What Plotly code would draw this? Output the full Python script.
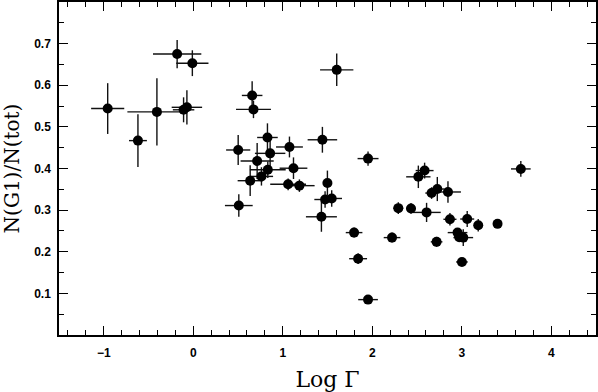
import plotly.graph_objects as go

# values
log_gamma = [-0.956, -0.618, -0.406, -0.18, -0.01, -0.108, -0.071,
             0.658, 0.673, 0.502, 0.829, 0.859, 1.075, 0.714, 0.833, 1.12,
             0.636, 0.762, 1.06, 1.186, 0.509, 1.603, 1.443, 1.953, 1.499,
             1.473, 1.547, 1.432, 1.797, 1.842, 1.953, 2.221, 2.291, 2.433,
             2.515, 2.585, 2.663, 2.727, 2.846, 2.607, 2.868, 3.061, 3.184,
             3.4, 2.953, 2.972, 3.017, 2.719, 3.002, 3.66]
log_gamma_err = [0.185, 0.1, 0.33, 0.27, 0.18, 0.12, 0.17,
                 0.115, 0.195, 0.135, 0.115, 0.17, 0.15, 0.185, 0.2, 0.155,
                 0.14, 0.13, 0.2, 0.17, 0.155, 0.186, 0.165, 0.117, 0.05,
                 0.12, 0.115, 0.173, 0.093, 0.1, 0.11, 0.093, 0.056, 0.055,
                 0.136, 0.1, 0.07, 0.08, 0.145, 0.158, 0.073, 0.078, 0.03,
                 0.0, 0.11, 0.05, 0.11, 0.065, 0.065, 0.11]
frac_g1 = [0.544, 0.467, 0.536, 0.675, 0.653, 0.541, 0.547,
           0.5755, 0.542, 0.4445, 0.4745, 0.4364, 0.4517, 0.418, 0.397, 0.4007,
           0.3707, 0.381, 0.362, 0.3588, 0.311, 0.637, 0.469, 0.4238, 0.365,
           0.3255, 0.328, 0.284, 0.246, 0.1833, 0.085, 0.234, 0.3048, 0.304,
           0.380, 0.395, 0.341, 0.3507, 0.3436, 0.2945, 0.278, 0.2786, 0.2635,
           0.267, 0.246, 0.235, 0.234, 0.2238, 0.1755, 0.399]
frac_g1_err = [0.061, 0.0635, 0.081, 0.034, 0.031, 0.03, 0.041,
               0.034, 0.021, 0.036, 0.034, 0.034, 0.025, 0.043, 0.02, 0.026,
               0.037, 0.022, 0.014, 0.015, 0.027, 0.039, 0.031, 0.017, 0.03,
               0.02, 0.02, 0.036, 0.012, 0.013, 0.008, 0.012, 0.014, 0.013,
               0.027, 0.019, 0.014, 0.029, 0.026, 0.023, 0.015, 0.019, 0.015,
               0.0, 0.01, 0.01, 0.02, 0.012, 0.008, 0.019]

x_ticks = [-1, 0, 1, 2, 3, 4]
x_labels = ['\u22121', '0', '1', '2', '3', '4']
x_minor = [-1.4, -1.2, -0.8, -0.6, -0.4, -0.2, 0.2, 0.4, 0.6, 0.8, 1.2, 1.4, 1.6, 1.8,
           2.2, 2.4, 2.6, 2.8, 3.2, 3.4, 3.6, 3.8, 4.2, 4.4]
y_ticks = [0.1, 0.2, 0.3, 0.4, 0.5, 0.6, 0.7]
y_labels = ['0.1', '0.2', '0.3', '0.4', '0.5', '0.6', '0.7']
y_minor = [0.05, 0.15, 0.25, 0.35, 0.45, 0.55, 0.65, 0.75]

tick_font = dict(family='Liberation Sans', size=12, color='black', weight='bold')


def axis_style(**kw):
    '''
    common frame / tick settings
    '''
    d = dict(showline=True, linecolor='black', linewidth=1.5, mirror='ticks',
             ticks='inside', ticklen=9, tickwidth=1.3, tickcolor='black',
             showgrid=False, zeroline=False, tickfont=tick_font, automargin=False)
    d.update(kw)
    return d


fig = go.Figure()
fig.add_trace(go.Scatter(
    x=log_gamma, y=frac_g1, mode='markers',
    marker=dict(color='black', size=10),
    error_x=dict(type='data', array=log_gamma_err, color='#111', thickness=1.4, width=0),
    error_y=dict(type='data', array=frac_g1_err, color='#111', thickness=1.4, width=0),
    showlegend=False))

fig.update_layout(
    width=598, height=392,
    margin=dict(l=59, r=2, t=2, b=57),
    plot_bgcolor='white', paper_bgcolor='white',
    xaxis=axis_style(range=[-1.5, 4.5], tickmode='array', tickvals=x_ticks, ticktext=x_labels,
                     ticklabelstandoff=6,
                     minor=dict(ticks='inside', ticklen=5, tickwidth=1.2, tickcolor='black',
                                tickvals=x_minor),
                     title=dict(text='Log Γ', font=dict(family='DejaVu Serif', size=22, color='black'),
                                standoff=14)),
    yaxis=axis_style(range=[0, 0.8], tickmode='array', tickvals=y_ticks, ticktext=y_labels,
                     ticklabelstandoff=4,
                     minor=dict(ticks='inside', ticklen=5, tickwidth=1.2, tickcolor='black',
                                tickvals=y_minor),
                     title=dict(text='N(G1)/N(tot)', font=dict(family='DejaVu Serif', size=20, color='black'),
                                standoff=13)),
)

# page body has an 8px margin by default, drop it so the figure fills the window
fig.write_html('out.html', config={'displayModeBar': False},
               post_script="document.body.style.margin='0';")
